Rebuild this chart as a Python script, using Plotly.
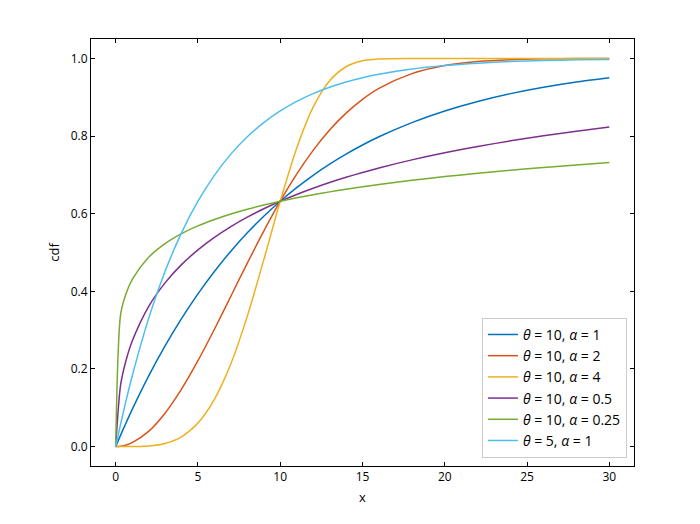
import plotly.graph_objects as go

x = [0, 0.3, 0.6, 1, 2, 3, 4, 5, 6, 7, 8, 9, 10, 11, 12, 13, 14, 15, 16, 18, 20, 22, 24, 26, 28, 30]

cdf_t10_a1 = [0, 0.0296, 0.0582, 0.0952, 0.1813, 0.2592, 0.3297, 0.3935, 0.4512, 0.5034, 0.5507, 0.5934,
              0.6321, 0.6671, 0.6988, 0.7275, 0.7534, 0.7769, 0.7981, 0.8347, 0.8647, 0.8892, 0.9093,
              0.9257, 0.9392, 0.9502]
cdf_t10_a2 = [0, 0.0009, 0.0036, 0.0100, 0.0392, 0.0861, 0.1479, 0.2212, 0.3023, 0.3874, 0.4727, 0.5551,
              0.6321, 0.7018, 0.7631, 0.8155, 0.8591, 0.8946, 0.9227, 0.9608, 0.9817, 0.9921, 0.9968,
              0.9988, 0.9996, 0.9999]
cdf_t10_a4 = [0, 0.0000, 0.0000, 0.0001, 0.0016, 0.0081, 0.0253, 0.0606, 0.1216, 0.2134, 0.3361, 0.4811,
              0.6321, 0.7687, 0.8743, 0.9425, 0.9785, 0.9937, 0.9986, 1.0, 1.0, 1.0, 1.0, 1.0, 1.0, 1.0]
cdf_t10_a05 = [0, 0.1590, 0.2172, 0.2711, 0.3606, 0.4217, 0.4687, 0.5069, 0.5391, 0.5669, 0.5912, 0.6127,
               0.6321, 0.6496, 0.6656, 0.6803, 0.6937, 0.7061, 0.7177, 0.7386, 0.7569, 0.7731, 0.7876,
               0.8006, 0.8124, 0.8231]
cdf_t10_a025 = [0, 0.3404, 0.3904, 0.4301, 0.4876, 0.5229, 0.5486, 0.5687, 0.5852, 0.5994, 0.6116, 0.6224,
                0.6321, 0.6409, 0.6489, 0.6562, 0.6630, 0.6694, 0.6753, 0.6860, 0.6955, 0.7041, 0.7120,
                0.7191, 0.7257, 0.7318]
cdf_t5_a1 = [0, 0.0582, 0.1131, 0.1813, 0.3297, 0.4512, 0.5507, 0.6321, 0.6988, 0.7534, 0.7981, 0.8347,
             0.8647, 0.8892, 0.9093, 0.9257, 0.9392, 0.9502, 0.9592, 0.9727, 0.9817, 0.9877, 0.9918,
             0.9945, 0.9963, 0.9975]

series = [
    ("<i>θ</i> = 10, <i>α</i> = 1", cdf_t10_a1, "#0072BD"),
    ("<i>θ</i> = 10, <i>α</i> = 2", cdf_t10_a2, "#D95319"),
    ("<i>θ</i> = 10, <i>α</i> = 4", cdf_t10_a4, "#EDB120"),
    ("<i>θ</i> = 10, <i>α</i> = 0.5", cdf_t10_a05, "#7E2F8E"),
    ("<i>θ</i> = 10, <i>α</i> = 0.25", cdf_t10_a025, "#77AC30"),
    ("<i>θ</i> = 5, <i>α</i> = 1", cdf_t5_a1, "#4DBEEE"),
]

fig = go.Figure()
for name, y, color in series:
    fig.add_trace(go.Scatter(x=x, y=y, mode="lines", name=name,
                             line=dict(color=color, width=1.5, shape="spline", smoothing=0.8)))

axis_common = dict(showline=True, linecolor="black", linewidth=1, mirror="ticks",
                   ticks="inside", ticklen=4, tickcolor="black", showgrid=False, zeroline=False,
                   tickfont=dict(size=12, color="black"))

fig.update_layout(
    width=700, height=524,
    margin=dict(l=83, r=74, t=31, b=66),
    paper_bgcolor="white", plot_bgcolor="white",
    font=dict(family="Open Sans", size=12, color="black"),
    xaxis=dict(range=[-1.5, 31.5], tickvals=[0, 5, 10, 15, 20, 25, 30],
               title=dict(text="x", font=dict(size=13), standoff=8), **axis_common),
    yaxis=dict(range=[-0.05, 1.05], tickvals=[0, 0.2, 0.4, 0.6, 0.8, 1.0], tickformat=".1f",
               title=dict(text="cdf", font=dict(size=13), standoff=8), **axis_common),
    legend=dict(x=0.987, y=0.019, xanchor="right", yanchor="bottom",
                bgcolor="rgba(255,255,255,0.8)", bordercolor="#cccccc", borderwidth=1,
                font=dict(size=14), tracegroupgap=0, itemwidth=30),
    showlegend=True,
)

fig.write_html("out.html")
